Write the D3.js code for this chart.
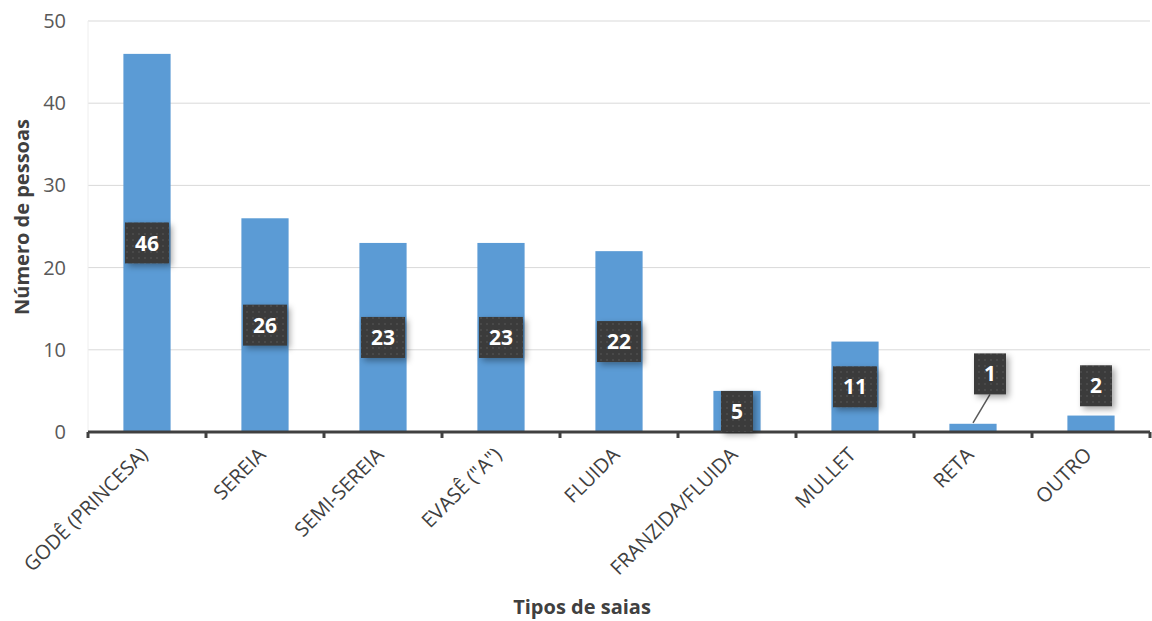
<!DOCTYPE html>
<html>
<head>
  <meta charset="utf-8">
  <script src="https://d3js.org/d3.v7.min.js"></script>
  <style>
    body { margin: 0; background: #fff; }
    svg { font-family: "Open Sans", sans-serif; }
  </style>
</head>
<body>
<div id="chart"></div>
<script>
  // chart data
  var categories = ["GODÊ (PRINCESA)", "SEREIA", "SEMI-SEREIA", "EVASÊ (\"A\")", "FLUIDA", "FRANZIDA/FLUIDA", "MULLET", "RETA", "OUTRO"];
  var values = [46, 26, 23, 23, 22, 5, 11, 1, 2];
  var yTicks = [0, 10, 20, 30, 40, 50];

  var W = 1152, H = 621;
  var margin = {top: 21, right: 2, bottom: 189, left: 88};
  var width = W - margin.left - margin.right;
  var height = H - margin.top - margin.bottom;

  var svg = d3.select("#chart").append("svg")
    .attr("width", W)
    .attr("height", H);

  var defs = svg.append("defs");
  var pat = defs.append("pattern")
    .attr("id", "dots")
    .attr("width", 6).attr("height", 6)
    .attr("patternUnits", "userSpaceOnUse");
  pat.append("rect").attr("width", 6).attr("height", 6).attr("fill", "#3b3b3b");
  pat.append("rect").attr("x", 2).attr("y", 2).attr("width", 2).attr("height", 2).attr("fill", "#4a4a4a");

  var shadow = defs.append("filter").attr("id", "shadow")
    .attr("x", "-30%").attr("y", "-30%").attr("width", "170%").attr("height", "170%");
  shadow.append("feDropShadow")
    .attr("dx", 3).attr("dy", 3).attr("stdDeviation", 3)
    .attr("flood-color", "#000").attr("flood-opacity", 0.35);

  var g = svg.append("g")
    .attr("transform", "translate(" + margin.left + "," + margin.top + ")");

  var x = d3.scaleBand()
    .domain(categories)
    .range([0, width])
    .paddingInner(0.6)
    .paddingOuter(0.3);

  var y = d3.scaleLinear()
    .domain([0, 50])
    .range([height, 0]);

  // gridlines
  g.append("g")
    .selectAll("line")
    .data(yTicks.slice(1))
    .enter().append("line")
    .attr("x1", 0).attr("x2", width)
    .attr("y1", d => y(d)).attr("y2", d => y(d))
    .attr("stroke", "#d9d9d9")
    .attr("stroke-width", 1);

  g.append("line")
    .attr("x1", 0).attr("x2", 0)
    .attr("y1", 0).attr("y2", height)
    .attr("stroke", "#eeeeee");

  // y tick labels
  g.append("g")
    .selectAll("text")
    .data(yTicks)
    .enter().append("text")
    .attr("x", -22)
    .attr("y", d => y(d))
    .attr("dy", "0.35em")
    .attr("text-anchor", "end")
    .attr("font-size", 20)
    .attr("fill", "#595959")
    .text(d => d);

  // bars
  g.selectAll(".bar")
    .data(values)
    .enter().append("rect")
    .attr("class", "bar")
    .attr("x", (d, i) => x(categories[i]))
    .attr("y", d => y(d))
    .attr("width", x.bandwidth())
    .attr("height", d => height - y(d))
    .attr("fill", "#5b9bd5");

  // x axis
  var step = x.step();
  var xAxis = g.append("g").attr("transform", "translate(0," + height + ")");
  xAxis.append("line")
    .attr("x1", 0).attr("x2", width)
    .attr("stroke", "#404040")
    .attr("stroke-width", 3);
  xAxis.selectAll(".tk")
    .data(d3.range(categories.length + 1))
    .enter().append("line")
    .attr("x1", d => d * step).attr("x2", d => d * step)
    .attr("y1", 0).attr("y2", 6)
    .attr("stroke", "#404040")
    .attr("stroke-width", 3);
  xAxis.selectAll(".lbl")
    .data(categories)
    .enter().append("text")
    .attr("text-anchor", "end")
    .attr("font-size", 20)
    .attr("fill", "#404040")
    .attr("transform", d => "translate(" + (x(d) + x.bandwidth() / 2 + 2) + ",24) rotate(-45)")
    .text(d => d);

  // axis titles
  svg.append("text")
    .attr("x", 582)
    .attr("y", 614)
    .attr("text-anchor", "middle")
    .attr("font-size", 20)
    .attr("font-weight", "bold")
    .attr("fill", "#404040")
    .text("Tipos de saias");

  svg.append("text")
    .attr("transform", "translate(29,217) rotate(-90)")
    .attr("text-anchor", "middle")
    .attr("font-size", 20)
    .attr("font-weight", "bold")
    .attr("fill", "#404040")
    .text("Número de pessoas");

  // data labels (manually nudged ones for the tiny bars)
  var nudges = {"RETA": {dx: 17, dy: -54, leader: true}, "OUTRO": {dx: 5, dy: -38, leader: false}};
  var labels = g.selectAll(".dl")
    .data(values)
    .enter().append("g")
    .attr("class", "dl")
    .each(function(d, i) {
      var cat = categories[i];
      var cx = x(cat) + x.bandwidth() / 2;
      var cy = (y(d) + y(0)) / 2;
      var n = nudges[cat];
      var el = d3.select(this);
      var bw = String(d).length > 1 ? 44 : 32;
      var bh = 41;
      if (n) {
        cx += n.dx; cy += n.dy;
        if (n.leader) {
          el.append("line")
            .attr("x1", cx).attr("y1", cy + bh / 2)
            .attr("x2", x(cat) + x.bandwidth() / 2).attr("y2", y(d) - 1)
            .attr("stroke", "#595959")
            .attr("stroke-width", 1.5);
        }
      }
      el.append("rect")
        .attr("x", cx - bw / 2).attr("y", cy - bh / 2)
        .attr("width", bw).attr("height", bh)
        .attr("fill", "url(#dots)")
        .attr("filter", "url(#shadow)");
      el.append("text")
        .attr("x", cx).attr("y", cy)
        .attr("dy", "0.36em")
        .attr("text-anchor", "middle")
        .attr("font-size", 21)
        .attr("font-weight", "bold")
        .attr("fill", "#ffffff")
        .text(d);
    });
</script>
</body>
</html>
